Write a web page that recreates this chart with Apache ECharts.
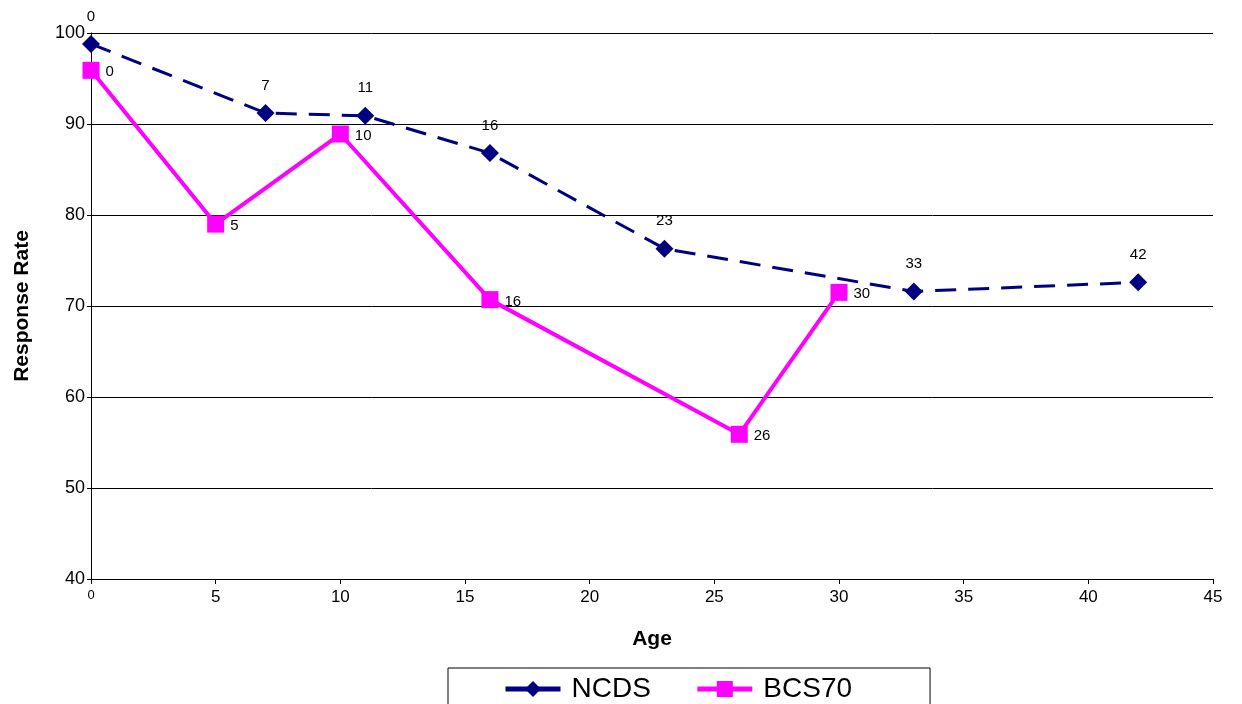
<!DOCTYPE html>
<html><head><meta charset="utf-8">
<script src="https://cdn.jsdelivr.net/npm/echarts@6/dist/echarts.min.js"></script>
<style>html,body{margin:0;padding:0;background:#fff}#c{width:1242px;height:704px}</style>
</head><body><div id="c"></div>
<script>
const ncdsAges = [0, 7, 11, 16, 23, 33, 42];
const ncdsRates = [98.8, 91.2, 90.9, 86.8, 76.3, 71.6, 72.6];
const bcsAges = [0, 5, 10, 16, 26, 30];
const bcsRates = [95.9, 79.0, 88.9, 70.7, 55.9, 71.5];
const xTicks = [0, 5, 10, 15, 20, 25, 30, 35, 40, 45];
const yTicks = [40, 50, 60, 70, 80, 90, 100];

const F = '"Liberation Sans", Arial, sans-serif';
const chart = echarts.init(document.getElementById('c'));
chart.setOption({
  animation: false,
  backgroundColor: '#fff',
  grid: {left: 91, right: 29, top: 33, bottom: 125},
  xAxis: {
    type: 'value', min: xTicks[0], max: xTicks[xTicks.length-1], interval: 5,
    name: 'Age', nameLocation: 'middle', nameGap: 50,
    nameTextStyle: {fontFamily: F, fontSize: 21, fontWeight: 'bold', color: '#000'},
    axisLine: {lineStyle: {color: '#000', width: 1}},
    axisTick: {show: true, length: 5, lineStyle: {color: '#000'}},
    axisLabel: {fontFamily: F, fontSize: 17, color: '#000', margin: 10,
      formatter: v => v === 0 ? '{s|0}' : String(v),
      rich: {s: {fontFamily: F, fontSize: 13, color: '#000'}}},
    splitLine: {show: false}
  },
  yAxis: {
    type: 'value', min: yTicks[0], max: yTicks[yTicks.length-1], interval: 10,
    name: 'Response Rate', nameLocation: 'middle', nameGap: 58,
    nameTextStyle: {fontFamily: F, fontSize: 21, fontWeight: 'bold', color: '#000'},
    axisLine: {show: true, lineStyle: {color: '#000', width: 1}},
    axisTick: {show: true, length: 4, lineStyle: {color: '#000'}},
    axisLabel: {fontFamily: F, fontSize: 18, color: '#000', margin: 6},
    splitLine: {show: true, lineStyle: {color: '#000', width: 1}}
  },
  legend: {
    left: 448, top: 668,
    padding: [7, 78, 20, 55],
    itemGap: 44, itemWidth: 55, itemHeight: 20,
    borderColor: '#000', borderWidth: 1,
    textStyle: {fontFamily: F, fontSize: 28, color: '#000', padding: [0, 0, 0, 6]},
    lineStyle: {type: 'solid', width: 5},
    data: ['NCDS', 'BCS70']
  },
  series: [
    {
      name: 'NCDS', type: 'line',
      data: ncdsAges.map((a, i) => [a, ncdsRates[i]]),
      symbol: 'diamond', symbolSize: 18,
      itemStyle: {color: '#000080'},
      lineStyle: {color: '#000080', width: 3, type: [21, 12]},
      label: {show: true, position: 'top', distance: 11, fontFamily: F, fontSize: 15, color: '#000',
        formatter: p => String(p.value[0])},
      z: 2
    },
    {
      name: 'BCS70', type: 'line',
      data: bcsAges.map((a, i) => [a, bcsRates[i]]),
      symbol: 'rect', symbolSize: 17,
      itemStyle: {color: '#FF00FF'},
      lineStyle: {color: '#FF00FF', width: 4},
      label: {show: true, position: 'right', distance: 6, offset: [0, 2], fontFamily: F, fontSize: 15, color: '#000',
        formatter: p => String(p.value[0])},
      z: 3
    }
  ]
});
</script></body></html>
